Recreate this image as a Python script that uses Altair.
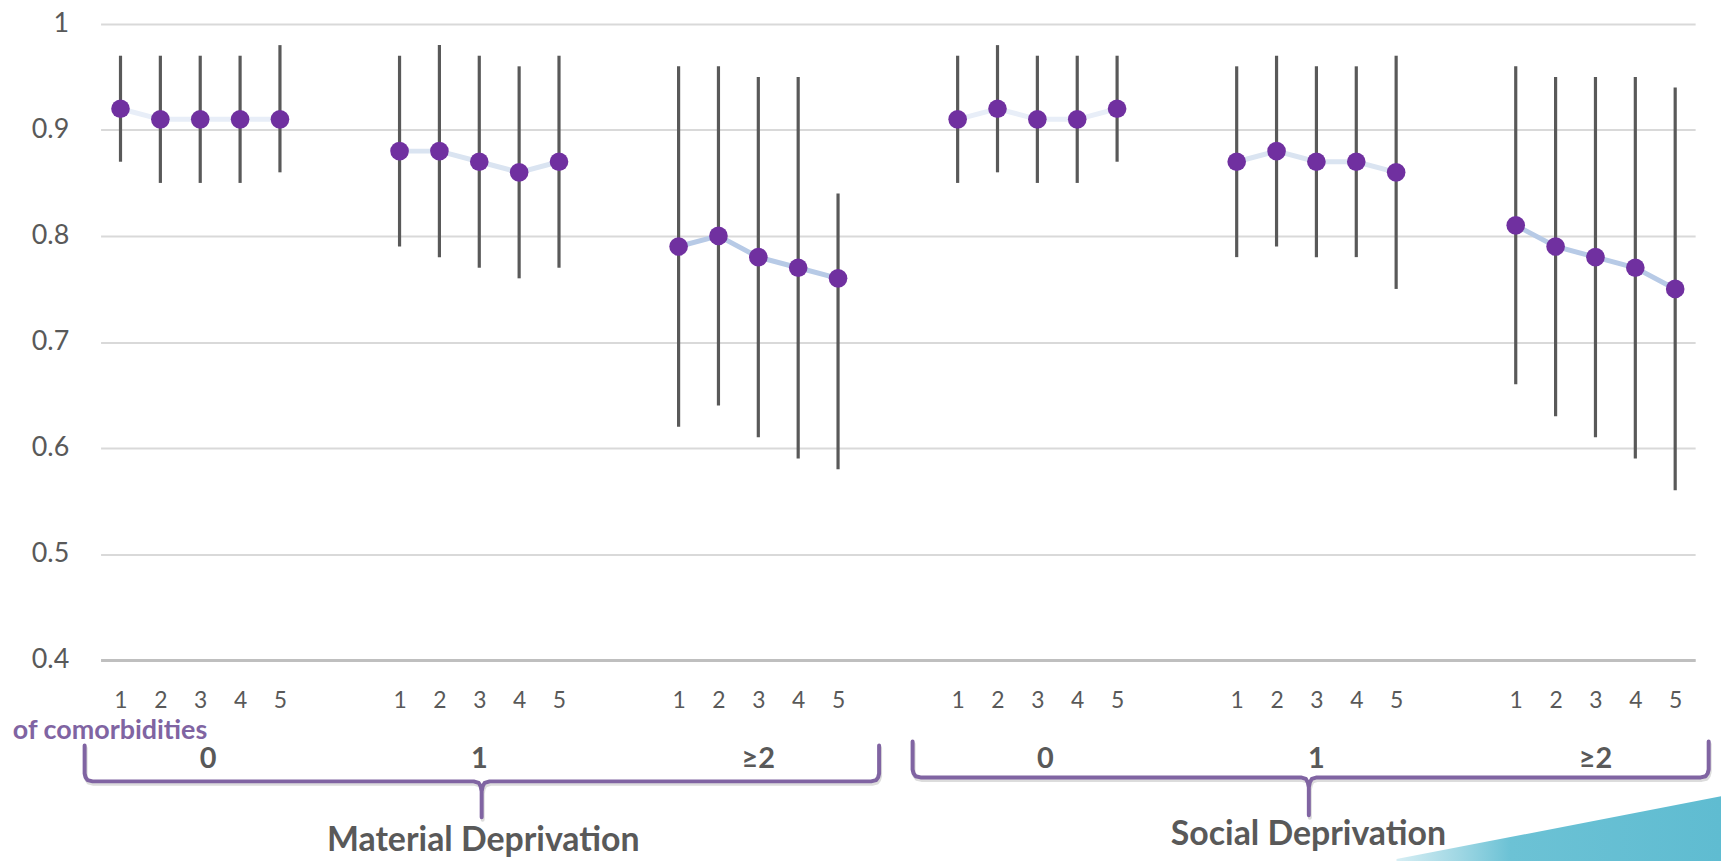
import altair as alt
import pandas as pd

# ---------------- data ----------------
groups = ["Material 0", "Material 1", "Material >=2", "Social 0", "Social 1", "Social >=2"]
quintiles = [1, 2, 3, 4, 5]
estimate = [
    [0.92, 0.91, 0.91, 0.91, 0.91],
    [0.88, 0.88, 0.87, 0.86, 0.87],
    [0.79, 0.80, 0.78, 0.77, 0.76],
    [0.91, 0.92, 0.91, 0.91, 0.92],
    [0.87, 0.88, 0.87, 0.87, 0.86],
    [0.81, 0.79, 0.78, 0.77, 0.75],
]
lower = [
    [0.87, 0.85, 0.85, 0.85, 0.86],
    [0.79, 0.78, 0.77, 0.76, 0.77],
    [0.62, 0.64, 0.61, 0.59, 0.58],
    [0.85, 0.86, 0.85, 0.85, 0.87],
    [0.78, 0.79, 0.78, 0.78, 0.75],
    [0.66, 0.63, 0.61, 0.59, 0.56],
]
upper = [
    [0.97, 0.97, 0.97, 0.97, 0.98],
    [0.97, 0.98, 0.97, 0.96, 0.97],
    [0.96, 0.96, 0.95, 0.95, 0.84],
    [0.97, 0.98, 0.97, 0.97, 0.97],
    [0.96, 0.97, 0.96, 0.96, 0.97],
    [0.96, 0.95, 0.95, 0.95, 0.94],
]
line_colors = ["#e8eef8", "#dae4f1", "#b7cae6", "#e8eef8", "#dae4f1", "#b7cae6"]
y_ticks = [0.4, 0.5, 0.6, 0.7, 0.8, 0.9, 1.0]

group_labels = ["0", "1", "≥2", "0", "1", "≥2"]
group_label_pos = [3.2, 10, 17, 24.2, 31, 38]
section_titles = ["Material Deprivation", "Social Deprivation"]
section_pos = [10.1, 30.8]
section_y = [821, 815]
axis_note = "of comorbidities"

# brace geometry: left, right, centre (slot units), top, horizontal, bottom (px)
braces = [
    {"L": 0.1, "R": 20.03, "C": 10.06, "top": 725, "H": 761, "bot": 797},
    {"L": 20.87, "R": 40.84, "C": 30.81, "top": 721, "H": 757, "bot": 795},
]

SLOTS = 7
PLOT_W = 1602
PLOT_H = 639
PX = 40.0 / PLOT_W  # slot units per pixel

rows = []
for g, name in enumerate(groups):
    for i, q in enumerate(quintiles):
        rows.append({
            "group": name,
            "q": q,
            "pos": SLOTS * g + q,
            "est": estimate[g][i],
            "lo": lower[g][i],
            "hi": upper[g][i],
        })
df = pd.DataFrame(rows)
positions = list(df["pos"])

brace_rows = []
for b_id, b in enumerate(braces):
    L, R, C, top, H, bot = b["L"], b["R"], b["C"], b["top"], b["H"], b["bot"]
    pts = [
        (L, top), (L, H - 8), (L + 1 * PX, H - 4), (L + 3 * PX, H - 1.2), (L + 8 * PX, H),
        (C - 8 * PX, H), (C - 3 * PX, H + 1.5), (C - 1 * PX, H + 5), (C, H + 10), (C, bot),
        (C, H + 10), (C + 1 * PX, H + 5), (C + 3 * PX, H + 1.5), (C + 8 * PX, H),
        (R - 8 * PX, H), (R - 3 * PX, H - 1.2), (R - 1 * PX, H - 4), (R, H - 8), (R, top),
    ]
    for k, (x, y) in enumerate(pts):
        brace_rows.append({"b": b_id, "k": k, "bx": x, "by": y,
                           "sx": x + 1 * PX, "sy": y + 2.5})
brace_df = pd.DataFrame(brace_rows)

glabel_df = pd.DataFrame({"tx": group_label_pos, "ty": [739] * 6, "t": group_labels})
title_df = pd.DataFrame({"tx": section_pos, "ty": section_y, "t": section_titles})
note_df = pd.DataFrame({"tx": [-1.7], "ty": [710], "t": [axis_note]})

FONT = "Lato"
TEXT_GRAY = "#595959"
PURPLE = "#8064a2"

x_scale = alt.Scale(domain=[0.5, 40.5], nice=False, zero=False)
x_axis = alt.Axis(
    values=positions,
    labelExpr="(datum.value - 1) % 7 + 1",
    title=None,
    grid=False,
    ticks=False,
    domain=True,
    domainColor="#bfbfbf",
    domainWidth=3,
    labelFontSize=23,
    labelFont=FONT,
    labelColor=TEXT_GRAY,
    labelPadding=30,
    labelOverlap=False,
    labelFlush=False,
)
y_scale = alt.Scale(domain=[0.4, 1.0], nice=False, zero=False)
y_axis = alt.Axis(
    values=y_ticks,
    labelExpr="datum.value == 1 ? '1' : format(datum.value, '.1f')",
    title=None,
    grid=True,
    gridColor="#d9d9d9",
    gridWidth=2,
    ticks=False,
    domain=False,
    labelFontSize=27,
    labelFont=FONT,
    labelColor=TEXT_GRAY,
    labelPadding=32,
)

base = alt.Chart(df)
line = base.mark_line(strokeWidth=5, strokeCap="round").encode(
    x=alt.X("pos:Q", scale=x_scale, axis=x_axis),
    y=alt.Y("est:Q", scale=y_scale, axis=y_axis),
    color=alt.Color("group:N", scale=alt.Scale(domain=groups, range=line_colors), legend=None),
    detail="group:N",
    order="pos:Q",
)
bars = base.mark_rule(color="#595959", strokeWidth=3.2).encode(
    x=alt.X("pos:Q", scale=x_scale, axis=x_axis),
    y=alt.Y("lo:Q", scale=y_scale, axis=y_axis),
    y2="hi:Q",
)
dots = base.mark_circle(color="#7030a0", size=350, opacity=1).encode(
    x=alt.X("pos:Q", scale=x_scale, axis=x_axis),
    y=alt.Y("est:Q", scale=y_scale, axis=y_axis),
)
main = alt.layer(line, bars, dots)

py_scale = alt.Scale(domain=[0, PLOT_H], reverse=True, nice=False, zero=False)

brace_shadow = alt.Chart(brace_df).mark_line(
    color="#9a9a9a", opacity=0.35, strokeWidth=4, strokeJoin="round", strokeCap="round"
).encode(
    x=alt.X("sx:Q", scale=x_scale, axis=x_axis),
    y=alt.Y("sy:Q", scale=py_scale, axis=None),
    detail="b:N",
    order="k:Q",
)
brace_line = alt.Chart(brace_df).mark_line(
    color=PURPLE, strokeWidth=4, strokeJoin="round", strokeCap="round"
).encode(
    x=alt.X("bx:Q", scale=x_scale, axis=x_axis),
    y=alt.Y("by:Q", scale=py_scale, axis=None),
    detail="b:N",
    order="k:Q",
)
glabels = alt.Chart(glabel_df).mark_text(
    font=FONT, fontSize=29, fontWeight="bold", color=TEXT_GRAY, align="center", baseline="middle"
).encode(
    x=alt.X("tx:Q", scale=x_scale, axis=x_axis),
    y=alt.Y("ty:Q", scale=py_scale, axis=None),
    text="t:N",
)
titles = alt.Chart(title_df).mark_text(
    font=FONT, fontSize=34, fontWeight="bold", color=TEXT_GRAY, align="center", baseline="middle"
).encode(
    x=alt.X("tx:Q", scale=x_scale, axis=x_axis),
    y=alt.Y("ty:Q", scale=py_scale, axis=None),
    text="t:N",
)
note = alt.Chart(note_df).mark_text(
    font=FONT, fontSize=27, fontWeight="bold", color=PURPLE, align="left", baseline="middle"
).encode(
    x=alt.X("tx:Q", scale=x_scale, axis=x_axis),
    y=alt.Y("ty:Q", scale=py_scale, axis=None),
    text="t:N",
)
teal = alt.Chart(pd.DataFrame({"d": [0]})).mark_point(
    shape="M-1,0 L1,-0.3865 L1,0.4 L-1,0.4 Z",
    size=106276,
    filled=True,
    opacity=1,
    strokeWidth=0,
    fill=alt.LinearGradient(
        gradient="linear",
        x1=0, y1=0, x2=1, y2=0,
        stops=[
            alt.GradientStop(offset=0, color="#d6eef4"),
            alt.GradientStop(offset=0.2, color="#9dd6e3"),
            alt.GradientStop(offset=0.35, color="#6cc2d5"),
            alt.GradientStop(offset=1, color="#5fbcd1"),
        ],
    ),
).encode(x=alt.value(1465), y=alt.value(839))

overlay = alt.layer(teal, brace_shadow, brace_line, glabels, titles, note)

chart = (
    alt.layer(main, overlay)
    .resolve_scale(y="independent", color="independent")
    .properties(
        width=PLOT_W,
        height=PLOT_H,
        autosize=alt.AutoSizeParams(type="none"),
        padding={"left": 93, "top": 14, "right": 26, "bottom": 200},
        background="white",
    )
    .configure_view(stroke=None)
)

chart.save("out.html", embed_options={"renderer": "svg", "actions": False})
